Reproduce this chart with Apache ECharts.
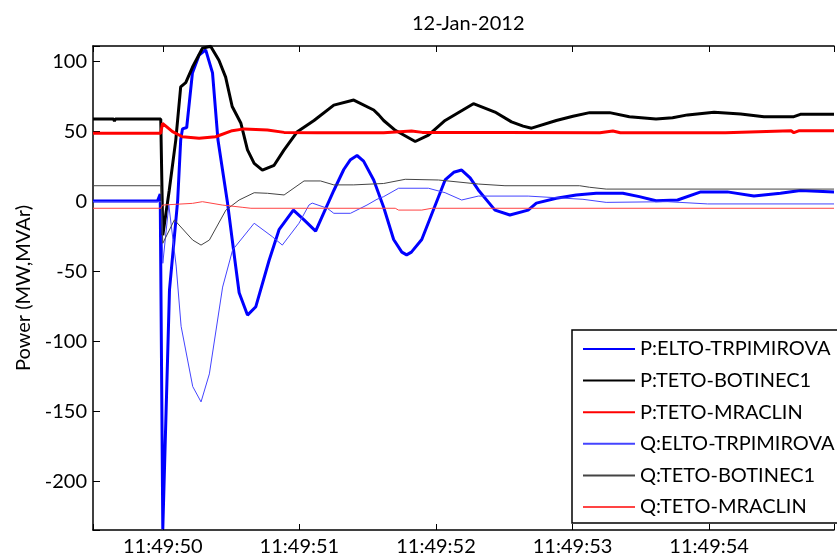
<!DOCTYPE html>
<html>
<head>
<meta charset="utf-8">
<script src="https://cdn.jsdelivr.net/npm/echarts@6/dist/echarts.min.js"></script>
<style>
  html, body { margin: 0; padding: 0; background: #fff; }
  #chart { width: 837px; height: 559px; }
</style>
</head>
<body>
<div id="chart"></div>
<script>
// time in seconds after 11:49:00, value in MW / MVAr
var pElto = [[49.489,0.5],[49.961,0.5],[49.981,5.5],[50.000,-234],[50.049,-63],[50.083,-27],[50.109,1],[50.131,44],[50.144,52],[50.175,53],[50.217,92],[50.266,104.8],[50.314,108.4],[50.364,92],[50.404,44],[50.474,-1],[50.508,-27],[50.559,-65],[50.620,-81],[50.681,-75],[50.778,-42],[50.851,-20],[50.956,-6],[51.034,-13],[51.119,-21],[51.252,8],[51.325,23],[51.374,30],[51.422,33],[51.47,29],[51.544,15.5],[51.617,-4],[51.690,-27],[51.75,-36],[51.785,-38],[51.82,-36],[51.896,-27],[52.067,15.5],[52.13,21],[52.188,22.6],[52.25,17],[52.310,8.4],[52.432,-6],[52.541,-9.5],[52.675,-6],[52.735,-1],[52.881,2.4],[53.027,4.8],[53.173,6],[53.368,6],[53.489,3.6],[53.611,0.7],[53.769,1.2],[53.939,7],[54.133,7],[54.328,4],[54.522,6],[54.668,8],[54.914,7]];
var pBot = [[49.489,59],[49.640,59],[49.646,57.5],[49.652,59],[49.985,59],[50.000,-24],[50.047,8],[50.095,44],[50.131,82],[50.168,85],[50.217,96],[50.290,109.6],[50.350,111],[50.411,101],[50.460,89],[50.508,68],[50.572,56],[50.620,37],[50.669,27.4],[50.729,22.6],[50.815,26],[50.888,37],[50.985,50],[51.107,58],[51.252,69],[51.398,72.6],[51.544,65.5],[51.581,62],[51.617,58],[51.702,51],[51.848,43],[51.945,47.6],[52.067,58],[52.274,70],[52.432,64],[52.553,57],[52.638,54],[52.700,52.5],[52.881,58],[53.003,61],[53.125,63.6],[53.271,63.6],[53.416,60.7],[53.611,59],[53.732,60],[53.842,62],[54.036,63.8],[54.231,62.6],[54.401,60.7],[54.620,60.7],[54.668,62.4],[54.914,62.4]];
var pMra = [[49.489,48.9],[49.985,48.9],[49.998,56],[50.071,50],[50.144,46.4],[50.266,45.3],[50.387,46.4],[50.508,50.7],[50.596,52],[50.766,51.2],[50.888,49.5],[51.131,49.3],[51.617,49.3],[51.821,50.5],[51.900,49.5],[52.500,49.5],[53.200,49.3],[53.295,50.5],[53.350,49.3],[54.119,49.3],[54.130,50.7],[54.600,50.7],[54.620,49.3],[54.660,50.7],[54.914,50.7]];
var qElto = [[49.489,0],[49.990,0],[50.000,-44],[50.044,-2.4],[50.098,-46],[50.134,-89],[50.219,-132],[50.280,-143],[50.341,-123],[50.438,-61],[50.511,-34.5],[50.669,-15.4],[50.802,-25],[50.875,-31],[50.997,-15.4],[51.070,-2.4],[51.094,-1],[51.204,-4.7],[51.252,-8.3],[51.374,-8.3],[51.495,-2.4],[51.568,1.7],[51.617,3.6],[51.726,9.6],[51.945,9.6],[52.067,6.4],[52.188,1.2],[52.310,4],[52.675,4],[53.076,1.7],[53.246,-0.5],[53.696,0],[53.988,-1.6],[54.914,-1.6]];
var qBot = [[49.489,11.4],[49.985,11.4],[50.000,-29.7],[50.085,-13],[50.219,-27.4],[50.280,-31],[50.341,-27.4],[50.462,-6],[50.559,1.2],[50.669,6.4],[50.766,6],[50.888,4.8],[51.034,14.8],[51.155,14.8],[51.252,12],[51.398,12],[51.617,13],[51.775,16],[52.018,15.5],[52.310,12.6],[52.505,11.4],[53.052,11.4],[53.125,10.3],[53.246,9],[54.914,9]];
var qMra = [[49.489,-4.7],[49.985,-4.7],[49.998,-2.4],[50.217,-1.2],[50.290,0],[50.435,-2.4],[50.581,-4],[50.645,-4.7],[51.702,-4.7],[51.726,-6],[51.896,-6],[51.969,-4.7],[54.914,-4.7]];

var names = ['P:ELTO-TRPIMIROVA','P:TETO-BOTINEC1','P:TETO-MRACLIN','Q:ELTO-TRPIMIROVA','Q:TETO-BOTINEC1','Q:TETO-MRACLIN'];
var allData = [pElto, pBot, pMra, qElto, qBot, qMra];
var colors = ['#0000ff','#000000','#ff0000','#4444ff','#444444','#ff4444'];
var widths = [3, 3, 3, 1, 1, 1];

var xMin = 49.489, xMax = 54.914;
var yMin = -234.5, yMax = 111.2;
var font = 'Lato';

var myChart = echarts.init(document.getElementById('chart'));

var series = [];
for (var i = 0; i < names.length; i++) {
  series.push({
    name: names[i],
    type: 'line',
    data: allData[i],
    symbol: 'none',
    animation: false,
    lineStyle: { color: colors[i], width: widths[i] },
    itemStyle: { color: colors[i] }
  });
}

var option = {
  animation: false,
  backgroundColor: '#fff',
  title: {
    text: '12-Jan-2012',
    left: 407, top: 9,
    textStyle: { fontFamily: font, fontSize: 20, fontWeight: 'normal', color: '#000' }
  },
  grid: { left: 93, right: 0, top: 46, bottom: 29 },
  legend: {
    orient: 'vertical',
    left: 572, top: 330,
    data: names,
    itemWidth: 52, itemHeight: 20, itemGap: 11.6,
    padding: [9, 30, 6, 10],
    backgroundColor: '#fff',
    borderColor: '#000', borderWidth: 1.5,
    itemStyle: { opacity: 0 },
    textStyle: { fontFamily: font, fontSize: 20, color: '#000' }
  },
  xAxis: [{
    type: 'value', min: xMin, max: xMax, position: 'bottom',
    axisLine: { onZero: false, lineStyle: { color: '#000', width: 1.5 } },
    axisTick: { inside: true, length: 6, lineStyle: { color: '#000' } },
    splitLine: { show: false },
    axisLabel: {
      interval: 0, margin: 7, color: '#000', fontFamily: font, fontSize: 20,
      formatter: function (v) {
        if (Math.abs(v - Math.round(v)) > 1e-6) return '';
        return '11:49:' + Math.round(v);
      }
    }
  }, {
    type: 'value', min: xMin, max: xMax, position: 'top',
    axisLine: { onZero: false, lineStyle: { color: '#000', width: 1.5 } },
    axisTick: { inside: true, length: 6, lineStyle: { color: '#000' } },
    splitLine: { show: false },
    axisLabel: { show: false }
  }],
  yAxis: {
    type: 'value', min: yMin, max: yMax, splitNumber: 7,
    name: 'Power (MW,MVAr)', nameLocation: 'middle', nameGap: 56,
    nameTextStyle: { fontFamily: font, fontSize: 20, color: '#000' },
    axisLine: { show: true, onZero: false, lineStyle: { color: '#000', width: 1.5 } },
    axisTick: { show: true, inside: true, length: 7, lineStyle: { color: '#000' } },
    splitLine: { show: false },
    axisLabel: {
      margin: 6, color: '#000', fontFamily: font, fontSize: 20,
      formatter: function (v) {
        if (Math.abs(v / 50 - Math.round(v / 50)) > 1e-6) return '';
        return String(Math.round(v));
      }
    }
  },
  series: series
};

myChart.setOption(option);
</script>
</body>
</html>
